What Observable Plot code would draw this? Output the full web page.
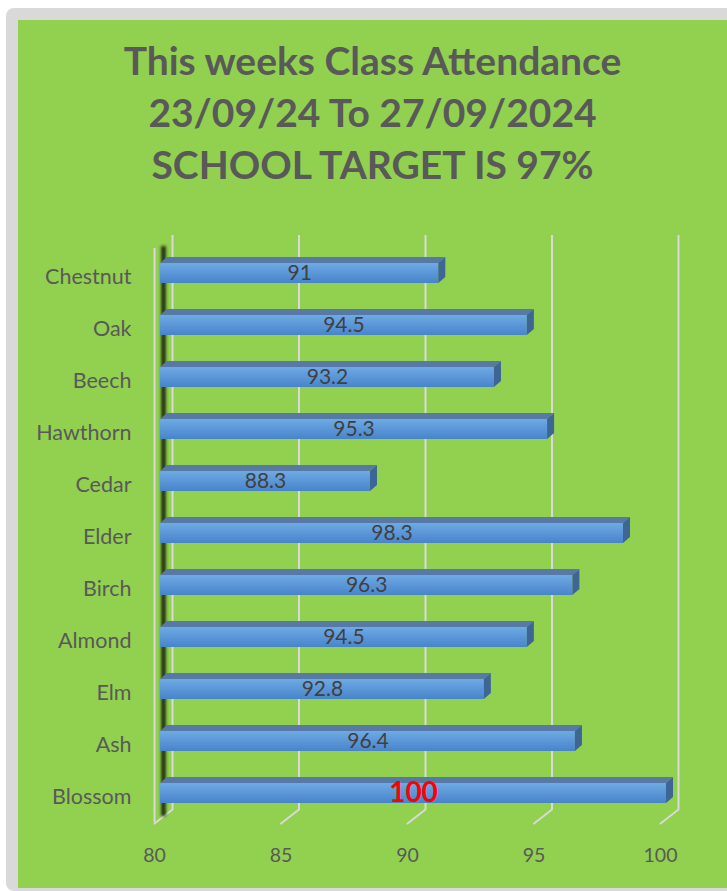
<!DOCTYPE html>
<html>
<head>
<meta charset="utf-8">
<script src="https://cdn.jsdelivr.net/npm/d3@7"></script>
<script src="https://cdn.jsdelivr.net/npm/@observablehq/plot@0.6"></script>
<style>
  html, body { margin: 0; padding: 0; background: #ffffff; overflow: hidden; width: 727px; height: 891px; }
  #frame { position: absolute; left: 6px; top: 8px; width: 760px; height: 883px; background: #d9d9d9; border-radius: 8px; }
  #green { position: absolute; left: 18px; top: 20px; width: 709px; height: 868px; background: #92d050; }
  #title { position: absolute; left: 0; top: 14px; width: 709px; text-align: center;
           font-family: Lato, "Open Sans", sans-serif; font-weight: bold; font-size: 39px; line-height: 52px; color: #595959; }
  #chart { position: absolute; left: 0; top: 180px; }
</style>
</head>
<body>
<div id="frame"></div>
<div id="green">
  <div id="title">
    <div>This weeks Class Attendance</div>
    <div>23/09/24 To 27/09/2024</div>
    <div>SCHOOL TARGET IS 97%</div>
  </div>
  <div id="chart"></div>
</div>
<script>
const categories = ["Chestnut","Oak","Beech","Hawthorn","Cedar","Elder","Birch","Almond","Elm","Ash","Blossom"];
const values = [91, 94.5, 93.2, 95.3, 88.3, 98.3, 96.3, 94.5, 92.8, 96.4, 100];
const tickValues = [80, 85, 90, 95, 100];
const highlight = "Blossom";

const data = categories.map((c, i) => ({category: c, value: values[i]}));
const base = 80;

const gridColor = "#d9d9d9";

const defs = () => {
  const d = d3.create("svg:defs");
  const g = d.append("linearGradient").attr("id", "barGrad").attr("x1", 0).attr("y1", 0).attr("x2", 0).attr("y2", 1);
  g.append("stop").attr("offset", "0%").attr("stop-color", "#6eaae3");
  g.append("stop").attr("offset", "100%").attr("stop-color", "#4884cb");
  const f = d.append("filter").attr("id", "blur").attr("filterUnits", "userSpaceOnUse")
    .attr("x", 0).attr("y", 0).attr("width", 709).attr("height", 688);
  f.append("feGaussianBlur").attr("stdDeviation", 1.8);
  return d.node();
};

const diagShape = {
  draw(context, l) { context.moveTo(0, 0); context.lineTo(0, -l); }
};

const chart = Plot.plot({
  width: 709,
  height: 688,
  marginLeft: 142,
  marginRight: 61,
  marginTop: 46,
  marginBottom: 68,
  style: {fontFamily: "Lato, 'Open Sans', sans-serif", fontSize: "18px", color: "#595959", background: "transparent", overflow: "visible"},
  x: {domain: [80, 100], ticks: tickValues, tickSize: 0, tickPadding: 28, label: null},
  y: {domain: categories, padding: 0, tickSize: 0, tickPadding: 29, label: null},
  marks: [
    defs,
    // back-wall gridlines
    Plot.ruleX(tickValues, {dx: 12, stroke: gridColor, strokeWidth: 2, insetTop: -11, insetBottom: 11}),
    // floor diagonals
    Plot.vector(tickValues, {x: d => d, frameAnchor: "bottom", dx: 12, dy: -11, length: 22.8, rotate: 232,
      shape: diagShape, stroke: gridColor, strokeWidth: 2, anchor: "start"}),
    // left wall front edge
    Plot.ruleX([base], {dx: -6, stroke: gridColor, strokeWidth: 2, insetTop: 2, insetBottom: -2}),
    // left wall shadow
    Plot.ruleX([base], {dx: 3, stroke: "#15220c", strokeWidth: 5, strokeOpacity: 0.9, insetTop: 0, insetBottom: 4, ariaDescription: "wall-shadow"}),
    // bar front face
    Plot.barX(data, {x1: base, x2: "value", y: "category", fill: "url(#barGrad)", insetTop: 16, insetBottom: 16}),
    // bar top face
    Plot.barX(data, {x1: base, x2: "value", y: "category", fill: "#5679a6", insetTop: 10, insetBottom: 36, ariaDescription: "top-face"}),
    // bar side face
    Plot.barX(data, {x1: "value", x2: "value", y: "category", fill: "#3d6596", insetTop: 16, insetBottom: 16, insetLeft: 0, insetRight: -7, ariaDescription: "side-face"}),
    // value labels
    Plot.text(data.filter(d => d.category !== highlight), {x: d => (base + d.value) / 2, y: "category", text: d => String(d.value),
      fill: "#404040", fontSize: 21}),
    Plot.text(data.filter(d => d.category === highlight), {x: d => (base + d.value) / 2, y: "category", text: d => String(d.value),
      fill: "#ff0000", fontSize: 28, fontWeight: "bold"}),
    Plot.axisX(tickValues, {tickSize: 0, tickPadding: 28, dx: -6, fill: "#595959", fontSize: 19.5, label: null}),
    Plot.axisY({tickSize: 0, tickPadding: 29, dy: 4, fill: "#595959", fontSize: 21.5, label: null})
  ]
});

const s = d3.select(chart);
s.selectAll('g[aria-description="top-face"] rect')
  .style("transform-box", "fill-box").style("transform-origin", "bottom").style("transform", "skewX(-49.4deg)");
s.selectAll('g[aria-description="side-face"] rect')
  .style("transform-box", "fill-box").style("transform-origin", "left").style("transform", "skewY(-40.6deg)");
s.selectAll('g[aria-description="wall-shadow"]').attr("filter", "url(#blur)");

document.getElementById("chart").appendChild(chart);
</script>
</body>
</html>
